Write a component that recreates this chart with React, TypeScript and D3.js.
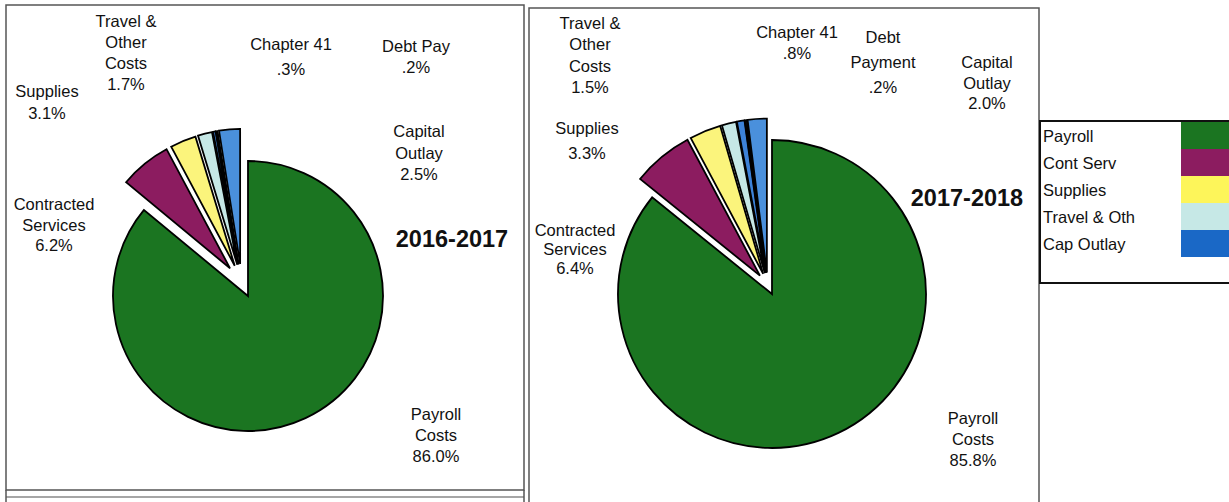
import React from "react";
import * as d3 from "d3";

const categories = ["Payroll Costs", "Contracted Services", "Supplies", "Travel & Other Costs", "Chapter 41", "Debt Payment", "Capital Outlay"];
const values2016 = [86.0, 6.2, 3.1, 1.7, 0.3, 0.2, 2.5];
const values2017 = [85.8, 6.4, 3.3, 1.5, 0.8, 0.2, 2.0];
const chartTitles = ["2016-2017", "2017-2018"];
const legendLabels = ["Payroll", "Cont Serv", "Supplies", "Travel & Oth", "Cap Outlay"];

const sliceColors = ["#1b7521", "#8c1c60", "#fbf47c", "#c6e8e6", "#3d82d8", "#1a2540", "#4a90dc"];
const legendColors = ["#1b7521", "#8c1c60", "#fdf55a", "#c6e8e6", "#1a68c6"];

const fmt = (v: number) => {
  const s = v.toFixed(1);
  return (s.startsWith("0") ? s.slice(1) : s) + "%";
};

type LabelLayout = { name: string[]; x: number; y: number; gap: number };
type ChartLayout = {
  cx: number; cy: number; r: number; explode: number;
  title: { x: number; y: number };
  labels: LabelLayout[];
};

const layouts: ChartLayout[] = [
  {
    cx: 248, cy: 296, r: 135, explode: 33,
    title: { x: 452, y: 239 },
    labels: [
      { name: ["Payroll", "Costs"], x: 436, y: 414, gap: 21 },
      { name: ["Contracted", "Services"], x: 54, y: 204, gap: 20.5 },
      { name: ["Supplies"], x: 47, y: 91, gap: 22 },
      { name: ["Travel &", "Other", "Costs"], x: 126, y: 21, gap: 21 },
      { name: ["Chapter 41"], x: 291, y: 44, gap: 25 },
      { name: ["Debt Pay"], x: 416, y: 46, gap: 21 },
      { name: ["Capital", "Outlay"], x: 419, y: 131, gap: 21.5 },
    ],
  },
  {
    cx: 772, cy: 294, r: 154, explode: 22,
    title: { x: 967, y: 198 },
    labels: [
      { name: ["Payroll", "Costs"], x: 973, y: 418, gap: 21 },
      { name: ["Contracted", "Services"], x: 575, y: 230, gap: 19 },
      { name: ["Supplies"], x: 587, y: 128, gap: 25 },
      { name: ["Travel &", "Other", "Costs"], x: 590, y: 23, gap: 21.3 },
      { name: ["Chapter 41"], x: 797, y: 32, gap: 21 },
      { name: ["Debt", "Payment"], x: 883, y: 37, gap: 25 },
      { name: ["Capital", "Outlay"], x: 987, y: 62, gap: 20.5 },
    ],
  },
];

const FONT = "Arial, 'Liberation Sans', sans-serif";

function Pie({ values, layout, title }: { values: number[]; layout: ChartLayout; title: string }) {
  const pie = d3.pie<number>().sort(null).value((d) => d)(values);
  const arc = d3.arc<d3.PieArcDatum<number>>().innerRadius(0).outerRadius(layout.r);
  // exploded group (all slices except payroll) share a common pull direction, blended with each bisector
  const groupMid = (pie[1].startAngle + pie[pie.length - 1].endAngle) / 2;
  return (
    <g>
      {pie.map((p, i) => {
        const mid = (p.startAngle + p.endAngle) / 2;
        const dir = groupMid + 0.55 * (mid - groupMid);
        const d = i === 0 ? 0 : layout.explode;
        const dx = Math.sin(dir) * d;
        const dy = -Math.cos(dir) * d;
        return (
          <path
            key={i}
            d={arc(p) || ""}
            transform={`translate(${layout.cx + dx},${layout.cy + dy})`}
            fill={sliceColors[i]}
            stroke="#000"
            strokeWidth={1.8}
            strokeLinejoin="miter"
          />
        );
      })}
      {layout.labels.map((l, i) => {
        const lines = [...l.name, fmt(values[i])];
        return (
          <text key={i} x={l.x} y={l.y} textAnchor="middle" dominantBaseline="central"
            fontFamily={FONT} fontSize={16.5} fill="#111">
            {lines.map((t, j) => (
              <tspan key={j} x={l.x} y={l.y + j * l.gap}>{t}</tspan>
            ))}
          </text>
        );
      })}
      <text x={layout.title.x} y={layout.title.y} textAnchor="middle" dominantBaseline="central"
        fontFamily={FONT} fontWeight="bold" fontSize={23.5} fill="#111">{title}</text>
    </g>
  );
}

export default function App() {
  const rowH = 27;
  const legendTop = 121;
  return (
    <div style={{ position: "absolute", left: 0, top: 0 }}>
      <svg width={1229} height={502} style={{ display: "block", background: "#fff" }}>
        {/* frames */}
        <rect x={6} y={5} width={518} height={485} fill="none" stroke="#555" strokeWidth={1.5} />
        <line x1={6} y1={497} x2={524} y2={497} stroke="#888" strokeWidth={1.5} />
        <line x1={6} y1={490} x2={6} y2={502} stroke="#555" strokeWidth={1.5} />
        <line x1={524} y1={490} x2={524} y2={502} stroke="#555" strokeWidth={1.5} />
        <path d="M529,502 L529,8 L1039,8 L1039,502" fill="none" stroke="#555" strokeWidth={1.5} />
        <Pie values={values2016} layout={layouts[0]} title={chartTitles[0]} />
        <Pie values={values2017} layout={layouts[1]} title={chartTitles[1]} />
        {/* legend */}
        <rect x={1040} y={legendTop} width={200} height={162} fill="#fff" stroke="#111" strokeWidth={2} />
        {legendLabels.map((lab, i) => (
          <g key={i}>
            <rect x={1181} y={legendTop + 1 + i * rowH} width={60} height={rowH} fill={legendColors[i]} />
            <text x={1043} y={legendTop + i * rowH + rowH / 2 + 1} dominantBaseline="central"
              fontFamily={FONT} fontSize={16.5} fill="#111">{lab}</text>
          </g>
        ))}
      </svg>
    </div>
  );
}
